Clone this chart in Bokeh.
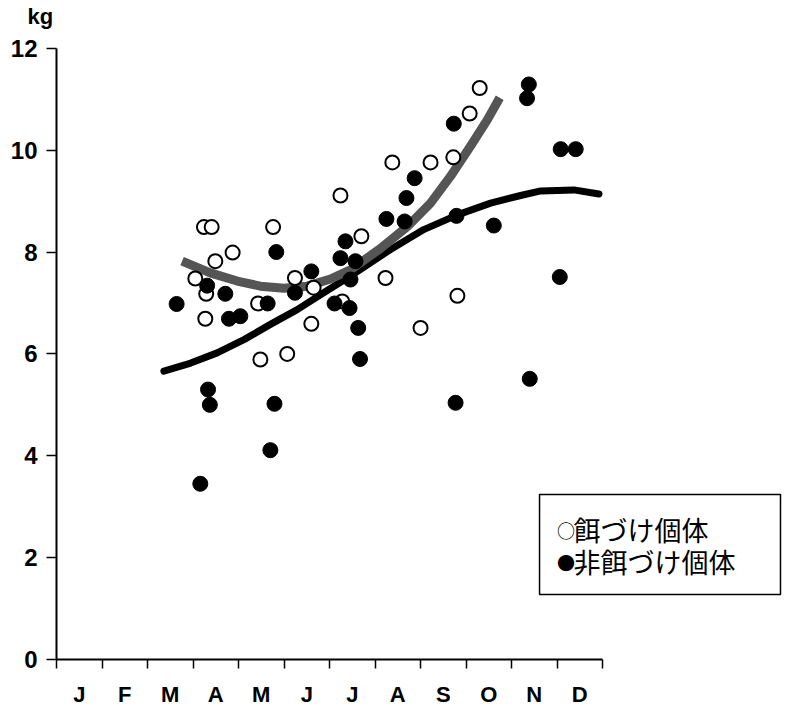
from bokeh.plotting import figure
from bokeh.models import Range1d, FixedTicker, Label, BoxAnnotation
from bokeh.embed import file_html
from bokeh.resources import INLINE

# ---- data (x in months from Jan 1, y in kg) ----
month_labels = ["J", "F", "M", "A", "M", "J", "J", "A", "S", "O", "N", "D"]
y_ticks = [0, 2, 4, 6, 8, 10, 12]

baited_month = [3.24, 3.41, 4.76, 3.87, 3.49, 3.05, 3.29, 5.24, 5.65, 4.43, 3.27, 5.60,
                4.48, 5.07, 6.24, 6.70, 7.23, 6.28, 9.30, 9.08, 8.72, 8.22, 7.38, 8.81, 8.00]
baited_kg = [8.49, 8.49, 8.49, 7.99, 7.82, 7.48, 7.18, 7.49, 7.30, 6.99, 6.69, 6.59,
             5.89, 6.00, 9.11, 8.31, 7.49, 7.03, 11.22, 10.72, 9.86, 9.76, 9.76, 7.14, 6.51]

unbaited_month = [2.64, 3.31, 3.71, 3.79, 4.04, 4.83, 4.64, 5.24, 5.60, 6.11, 6.44, 6.63,
                  6.67, 6.35, 6.24, 6.57, 6.46, 7.25, 8.73, 7.87, 7.69, 7.65, 8.79, 9.61,
                  10.38, 10.34, 11.08, 11.41, 11.06, 10.40, 8.77, 3.33, 3.37, 4.79, 4.70, 3.16]
unbaited_kg = [6.98, 7.34, 7.18, 6.69, 6.74, 8.00, 6.99, 7.20, 7.62, 6.99, 6.90, 6.51,
               5.90, 8.21, 7.88, 7.82, 7.46, 8.65, 10.52, 9.45, 9.06, 8.60, 8.71, 8.52,
               11.29, 11.02, 10.02, 10.02, 7.51, 5.51, 5.04, 5.30, 5.00, 5.02, 4.11, 3.45]

baited_curve_month = [2.76, 3.38, 3.97, 4.48, 5.00, 5.51, 6.02, 6.46, 7.12, 7.71, 8.22,
                      8.66, 9.10, 9.47, 9.74]
baited_curve_kg = [7.82, 7.59, 7.43, 7.33, 7.29, 7.33, 7.47, 7.65, 8.07, 8.50, 8.96,
                   9.49, 10.08, 10.60, 11.03]

unbaited_curve_month = [2.36, 2.95, 3.53, 4.12, 4.70, 5.29, 5.87, 6.46, 7.34, 8.07, 8.81,
                        9.54, 10.20, 10.64, 11.37, 11.92]
unbaited_curve_kg = [5.66, 5.82, 6.02, 6.28, 6.58, 6.87, 7.20, 7.53, 8.05, 8.44, 8.73,
                     8.96, 9.11, 9.20, 9.22, 9.14]

legend_symbols = ["○", "●"]
legend_labels = ["餌づけ個体", "非餌づけ個体"]
unit_label = "kg"

# ---- figure ----
p = figure(width=785, height=709, output_backend="svg", toolbar_location=None,
           x_range=Range1d(0, 16.02), y_range=Range1d(0, 12.369),
           min_border_left=56, min_border_right=0, min_border_top=0,
           min_border_bottom=49)
p.outline_line_color = None
p.xgrid.visible = False
p.ygrid.visible = False
p.background_fill_color = "white"

# unit label as the title
p.title.text = unit_label
p.title.align = "left"
p.title.offset = -29
p.title.standoff = 2
p.title.text_font = "Liberation Sans"
p.title.text_font_size = "22px"
p.title.text_font_style = "bold"
p.title.text_color = "black"

# curves
p.line(unbaited_curve_month, unbaited_curve_kg, line_color="black", line_width=7,
       line_cap="round", line_join="round")
p.line(baited_curve_month, baited_curve_kg, line_color="#555555", line_width=9,
       line_join="round")

# points
p.scatter(baited_month, baited_kg, size=14, marker="circle", fill_color="white",
          line_color="black", line_width=2)
p.scatter(unbaited_month, unbaited_kg, size=15, marker="circle", fill_color="black",
          line_color="black", line_width=1)

# x axis
xa = p.xaxis[0]
xa.bounds = (0, 12)
xa.ticker = FixedTicker(ticks=[i + 0.5 for i in range(12)],
                        minor_ticks=list(range(13)))
xa.major_label_overrides = {i + 0.5: m for i, m in enumerate(month_labels)}
xa.major_tick_out = 0
xa.major_tick_in = 0
xa.minor_tick_out = 9
xa.minor_tick_in = 0
xa.minor_tick_line_width = 1.5
xa.minor_tick_line_color = "black"
xa.axis_line_width = 2
xa.axis_line_color = "black"
xa.axis_label_standoff = 0
xa.major_label_standoff = 13
xa.major_label_text_font = "Liberation Sans"
xa.major_label_text_font_size = "22px"
xa.major_label_text_font_style = "bold"
xa.major_label_text_color = "black"

# y axis
ya = p.yaxis[0]
ya.bounds = (0, 12)
ya.ticker = FixedTicker(ticks=y_ticks, minor_ticks=[])
ya.major_tick_out = 10
ya.major_tick_in = 0
ya.major_tick_line_width = 1.5
ya.axis_line_width = 2
ya.axis_line_color = "black"
ya.axis_label_standoff = 0
ya.major_label_standoff = 9
ya.major_label_text_font = "Liberation Sans"
ya.major_label_text_font_size = "24px"
ya.major_label_text_font_style = "bold"
ya.major_label_text_color = "black"

# legend box
p.add_layout(BoxAnnotation(left=10.615, right=15.91, bottom=1.276, top=3.238,
                           fill_color="white", fill_alpha=1.0, line_color="black",
                           line_width=1.5, line_alpha=1.0))
for sym, txt, yy in zip(legend_symbols, legend_labels, [2.55, 1.92]):
    p.add_layout(Label(x=11.0, y=yy, text=sym, text_align="left",
                       text_baseline="middle", text_font="Noto Sans CJK JP",
                       text_font_size="18px", text_color="black"))
    p.add_layout(Label(x=11.36, y=yy, text=txt, text_align="left",
                       text_baseline="middle", text_font="Noto Sans CJK JP",
                       text_font_size="27px", text_color="black"))

open("out.html", "w").write(file_html(p, INLINE))
